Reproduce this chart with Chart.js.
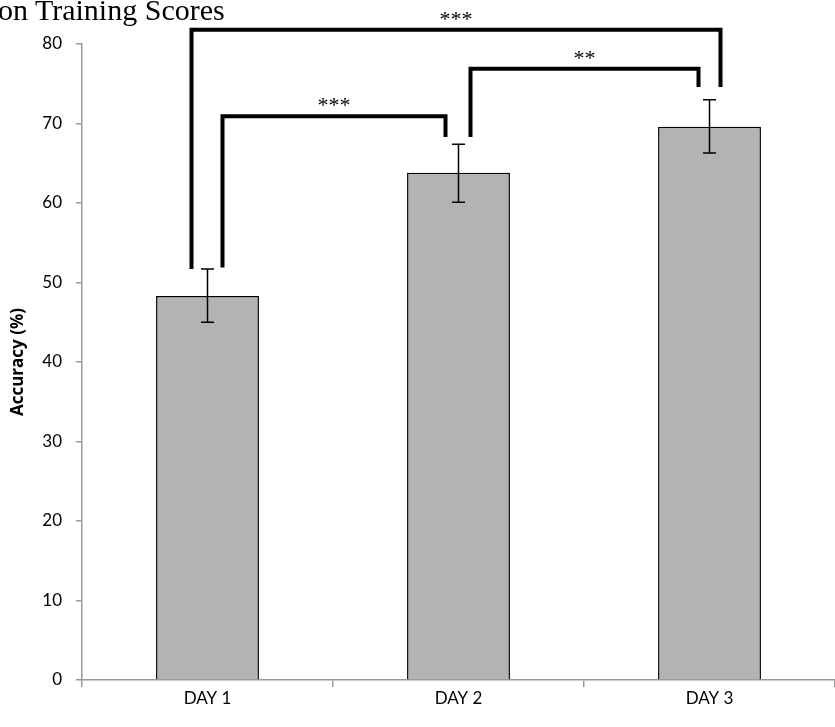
<!DOCTYPE html>
<html>
<head>
<meta charset="utf-8">
<script src="https://cdn.jsdelivr.net/npm/chart.js@4.4.1/dist/chart.umd.min.js"></script>
<style>
  html, body { margin: 0; padding: 0; background: #fff; overflow: hidden; }
  #wrap { position: relative; width: 835px; height: 727px; }
  #title { position: absolute; left: -2px; top: -5px; font-family: "Liberation Serif", "Times New Roman", serif; font-size: 30px; line-height: 1; color: #000; white-space: nowrap; }
</style>
</head>
<body>
<div id="wrap">
  <canvas id="c" width="835" height="727"></canvas>
  <div id="title">on Training Scores</div>
</div>
<script>
// ---- data ----
const categories = ["DAY 1", "DAY 2", "DAY 3"];
const accuracy = [48.3, 63.8, 69.6];
const errUpper = [51.7, 67.4, 73.0];
const errLower = [45.0, 60.1, 66.3];
const yTicks = [0, 10, 20, 30, 40, 50, 60, 70, 80];
// significance brackets: from/to category index, left foot, top, right foot (data units), label
const bracketFrom = [0, 0, 1];
const bracketTo = [2, 1, 2];
const bracketLeftFoot = [51.7, 51.9, 68.3];
const bracketTop = [81.8, 70.9, 76.9];
const bracketRightFoot = [74.6, 68.3, 74.6];
const bracketLabels = ["***", "***", "**"];

// pixel offsets of bracket legs from the category centres (style)
const legOffsetLeft = [-16, 15, 12];
const legOffsetRight = [11, -13, -11];

const extras = {
  id: 'extras',
  afterDatasetsDraw(chart) {
    const ctx = chart.ctx;
    const x = chart.scales.x, y = chart.scales.y;
    ctx.save();
    ctx.strokeStyle = '#000';
    ctx.lineWidth = 1.5;
    for (let i = 0; i < categories.length; i++) {
      const cx = x.getPixelForValue(i);
      const yt = y.getPixelForValue(errUpper[i]);
      const yb = y.getPixelForValue(errLower[i]);
      ctx.beginPath();
      ctx.moveTo(cx, yt); ctx.lineTo(cx, yb);
      ctx.moveTo(cx - 6.5, yt); ctx.lineTo(cx + 6.5, yt);
      ctx.moveTo(cx - 6.5, yb); ctx.lineTo(cx + 6.5, yb);
      ctx.stroke();
    }
    ctx.lineWidth = 4;
    ctx.lineCap = 'butt';
    ctx.lineJoin = 'miter';
    ctx.fillStyle = '#000';
    ctx.font = '22px "Liberation Serif", serif';
    ctx.textAlign = 'center';
    ctx.textBaseline = 'alphabetic';
    for (let k = 0; k < bracketLabels.length; k++) {
      const xl = x.getPixelForValue(bracketFrom[k]) + legOffsetLeft[k];
      const xr = x.getPixelForValue(bracketTo[k]) + legOffsetRight[k];
      const yl = y.getPixelForValue(bracketLeftFoot[k]);
      const yt = y.getPixelForValue(bracketTop[k]);
      const yr = y.getPixelForValue(bracketRightFoot[k]);
      ctx.beginPath();
      ctx.moveTo(xl, yl); ctx.lineTo(xl, yt); ctx.lineTo(xr, yt); ctx.lineTo(xr, yr);
      ctx.stroke();
      ctx.fillText(bracketLabels[k], (xl + xr) / 2, yt - 4);
    }
    ctx.restore();
  }
};

function build() {
  new Chart(document.getElementById('c'), {
    type: 'bar',
    data: {
      labels: categories,
      datasets: [{
        data: accuracy,
        backgroundColor: '#b3b3b3',
        borderColor: '#000',
        borderWidth: 1.5,
        borderSkipped: 'bottom',
        barPercentage: 0.41,
        categoryPercentage: 1.0
      }]
    },
    options: {
      responsive: false,
      animation: false,
      layout: { padding: { top: 44, right: 0, left: 0, bottom: 0 } },
      plugins: { legend: { display: false }, tooltip: { enabled: false }, title: { display: false } },
      scales: {
        x: {
          offset: true,
          grid: { offset: true, drawOnChartArea: false, drawTicks: true, tickLength: 7, color: '#999', lineWidth: 1.5 },
          border: { display: true, color: '#999', width: 1.5 },
          ticks: { color: '#000', font: { family: 'Lato', size: 17 }, padding: 1, maxRotation: 0 },
          afterFit(s) { s.height = 47; }
        },
        y: {
          min: 0, max: 80,
          afterBuildTicks(s) { s.ticks = yTicks.map(v => ({ value: v })); },
          grid: { drawOnChartArea: false, drawTicks: true, tickLength: 6, color: '#999', lineWidth: 1.5 },
          border: { display: true, color: '#999', width: 1.5 },
          ticks: { color: '#000', font: { family: 'Lato', size: 17 }, padding: 14 },
          title: { display: true, text: 'Accuracy (%)', color: '#000', font: { family: '"Open Sans"', size: 17, weight: 'bold' }, padding: { top: 8, bottom: 0 } },
          afterFit(s) { s.width = 82; }
        }
      }
    },
    plugins: [extras]
  });
}

Promise.all([
  document.fonts.load('17px Lato'),
  document.fonts.load('bold 17px "Open Sans"'),
  document.fonts.load('22px "Liberation Serif"')
]).then(build, build);
</script>
</body>
</html>
